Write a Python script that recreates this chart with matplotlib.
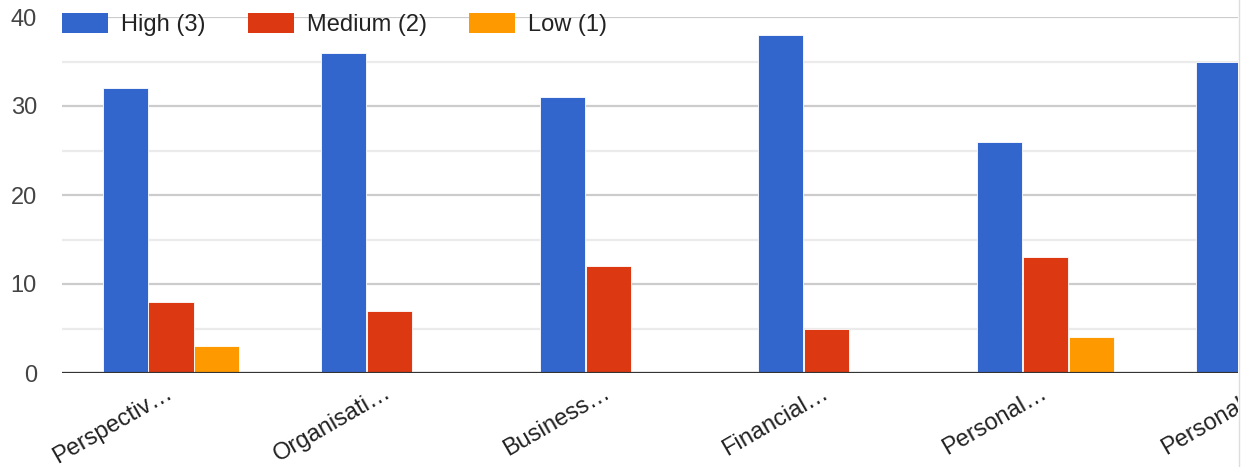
import numpy as np
import matplotlib
matplotlib.use("Agg")
import matplotlib.pyplot as plt
from matplotlib.patches import Rectangle, Patch
from matplotlib.lines import Line2D

categories = ["Perspectiv…", "Organisati…", "Business…", "Financial…", "Personal…", "Personal…"]
high = [32, 36, 31, 38, 26, 35]
medium = [8, 7, 12, 5, 13, np.nan]   # last group is cut off in the source
low = [3, 0, 0, 0, 4, np.nan]
series_names = ["High (3)", "Medium (2)", "Low (1)"]

colors = ["#3366cc", "#dc3912", "#ff9900"]

plt.rcParams['font.family'] = ['Liberation Sans', 'DejaVu Sans']

W, H = 1250, 467
unit = 218.6            # px per category
x_left = -0.4986
x_right = 5.5
fig = plt.figure(figsize=(W / 100, H / 100), dpi=100)
# axes runs past the right edge of the figure; the chart is cut off there
ax = fig.add_axes([62 / W, 94 / H, (x_right - x_left) * unit / W, 356 / H])

x = np.arange(len(categories))
bw = 0.206
step = 0.21
for i, (vals, c) in enumerate(zip([high, medium, low], colors)):
    ax.bar(x + (i - 1) * step, vals, width=bw, color=c, edgecolor="white",
           linewidth=0.6, zorder=3)

# gridlines
ax.set_yticks([0, 10, 20, 30, 40])
ax.set_yticks([5, 15, 25, 35], minor=True)
ax.grid(axis="y", which="major", color="#cccccc", linewidth=1.6, zorder=0)
ax.grid(axis="y", which="minor", color="#ebebeb", linewidth=1.6, zorder=0)
ax.axhline(0, color="#333333", linewidth=2.3, zorder=4)
ax.set_axisbelow(True)

for s in ax.spines.values():
    s.set_visible(False)

ax.tick_params(axis="y", which="both", length=0, pad=18, labelsize=17, labelcolor="#444444")
ax.tick_params(axis="x", length=0, pad=13, labelsize=17, labelcolor="#222222")
ax.set_xticks(x)
ax.set_xticklabels(categories, rotation=30, ha="right", va="center", rotation_mode="anchor")

ax.set_xlim(x_left, x_right)
ax.set_ylim(0, 40)

handles = [Patch(facecolor=c, edgecolor="none") for c in colors]
ax.legend(handles, series_names, loc="center left", bbox_to_anchor=(0, 0.98),
          ncol=3, frameon=False, fontsize=17, handlelength=1.95, handleheight=0.93,
          handletextpad=0.55, columnspacing=1.78, borderaxespad=0, borderpad=0)
for t in ax.get_legend().get_texts():
    t.set_color("#222222")

# cut-off edge
fig.add_artist(Rectangle((1238 / W, 0), 12 / W, 1, transform=fig.transFigure,
                         facecolor="white", edgecolor="none", zorder=10))
fig.add_artist(Line2D([1238.5 / W, 1238.5 / W], [0, 1], transform=fig.transFigure,
                      color="#dddddd", linewidth=1, zorder=11))

fig.savefig("out.png", dpi=100)
